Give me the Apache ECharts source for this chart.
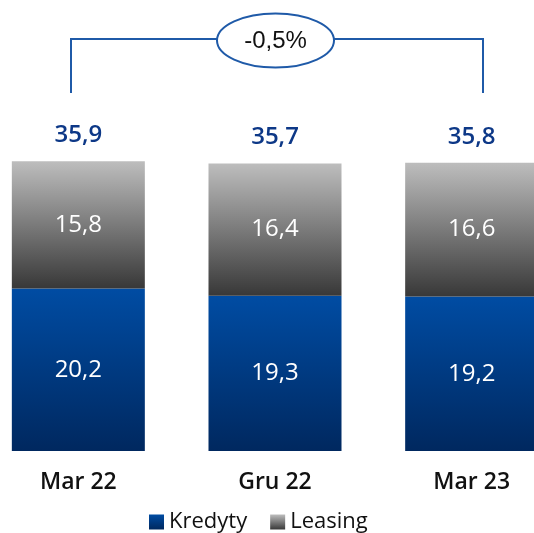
<!DOCTYPE html>
<html>
<head>
<meta charset="utf-8">
<script src="https://cdn.jsdelivr.net/npm/echarts@6/dist/echarts.min.js"></script>
<style>
  html, body { margin: 0; padding: 0; background: #fff; }
  #chart { width: 534px; height: 533px; }
</style>
</head>
<body>
<div id="chart"></div>
<script>
// Periods and portfolio values (PLN bn)
const categories = ['Mar 22', 'Gru 22', 'Mar 23'];
const kredyty = [20.2, 19.3, 19.2];
const leasing = [15.8, 16.4, 16.6];
const totals = [35.9, 35.7, 35.8];
const changeLabel = '-0,5%';

const fmt = v => String(v).replace('.', ',');

const blueGrad = new echarts.graphic.LinearGradient(0, 0, 0, 1, [
  { offset: 0, color: '#004ca3' },
  { offset: 1, color: '#00285f' }
]);
const grayGrad = new echarts.graphic.LinearGradient(0, 0, 0, 1, [
  { offset: 0, color: '#bdbdbd' },
  { offset: 1, color: '#383838' }
]);

const FONT = '"Open Sans", sans-serif';
const lineColor = '#1f5aa8';

const chart = echarts.init(document.getElementById('chart'));
chart.setOption({
  animation: false,
  grid: { left: -20, right: -36, top: 129, bottom: 82, outerBoundsMode: 'none', containLabel: false },
  legend: {
    data: ['Kredyty', 'Leasing'],
    left: 144,
    top: 506,
    icon: 'rect',
    itemWidth: 15,
    itemHeight: 15,
    itemGap: 23,
    textStyle: { fontFamily: FONT, fontSize: 22, color: '#111' }
  },
  xAxis: {
    type: 'category',
    data: categories,
    axisLine: { show: false },
    axisTick: { show: false },
    axisLabel: {
      margin: 20,
      fontFamily: FONT,
      fontSize: 23,
      fontWeight: 600,
      color: '#111'
    }
  },
  yAxis: {
    type: 'value',
    min: 0,
    max: 40,
    show: false,
    splitLine: { show: false }
  },
  series: [
    {
      name: 'Kredyty',
      type: 'bar',
      stack: 'total',
      barWidth: 133,
      data: kredyty,
      itemStyle: { color: blueGrad },
      label: {
        show: true,
        position: 'inside',
        formatter: p => fmt(p.value),
        fontFamily: FONT,
        fontSize: 24,
        fontWeight: 500,
        color: '#fff'
      }
    },
    {
      name: 'Leasing',
      type: 'bar',
      stack: 'total',
      barWidth: 133,
      data: leasing,
      itemStyle: { color: grayGrad },
      label: {
        show: true,
        position: 'inside',
        formatter: p => fmt(p.value),
        fontFamily: FONT,
        fontSize: 24,
        fontWeight: 500,
        color: '#fff'
      }
    },
    {
      name: 'Suma',
      type: 'bar',
      stack: 'total',
      barWidth: 133,
      data: totals.map(() => 0),
      itemStyle: { color: 'transparent' },
      label: {
        show: true,
        position: 'top',
        distance: 14,
        formatter: p => fmt(totals[p.dataIndex]),
        fontFamily: FONT,
        fontSize: 24,
        fontWeight: 600,
        color: '#0d3887'
      }
    }
  ],
  graphic: [
    {
      type: 'polyline',
      shape: { points: [[71, 93], [71, 39], [217, 39]] },
      style: { stroke: lineColor, lineWidth: 2, fill: null }
    },
    {
      type: 'polyline',
      shape: { points: [[334, 39], [483, 39], [483, 93]] },
      style: { stroke: lineColor, lineWidth: 2, fill: null }
    },
    {
      type: 'ellipse',
      shape: { cx: 275.5, cy: 40.5, rx: 58.5, ry: 27 },
      style: { stroke: lineColor, lineWidth: 2, fill: '#fff' }
    },
    {
      type: 'text',
      x: 275.5,
      y: 41,
      style: {
        text: changeLabel,
        fontFamily: '"Liberation Sans", sans-serif',
        fontSize: 24,
        fill: '#111',
        align: 'center',
        verticalAlign: 'middle'
      }
    }
  ]
});
</script>
</body>
</html>
